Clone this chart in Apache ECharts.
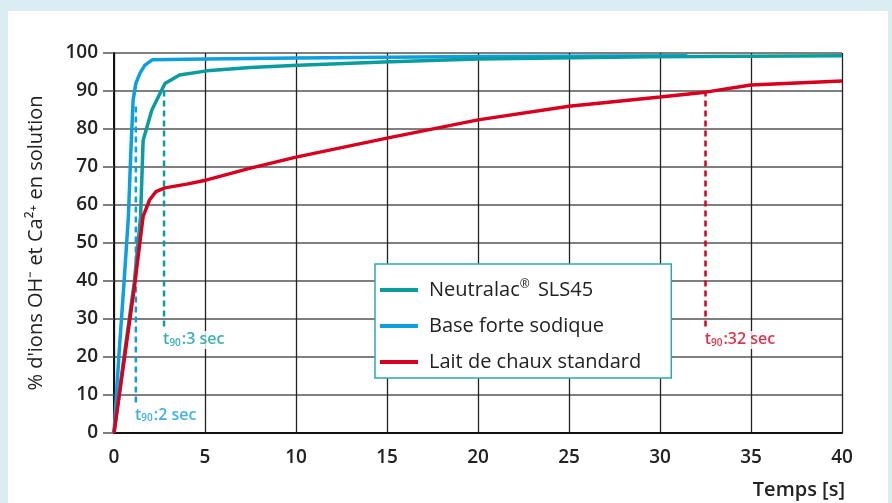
<!DOCTYPE html>
<html>
<head>
<meta charset="utf-8">
<script src="https://cdn.jsdelivr.net/npm/echarts@6/dist/echarts.min.js"></script>
<style>
html,body{margin:0;padding:0;background:#daedf2;}
#panel{position:absolute;left:8px;top:11px;width:880px;height:500px;background:#fff;}
#chart{position:absolute;left:0;top:0;width:892px;height:503px;}
</style>
</head>
<body>
<div id="panel"></div>
<div id="chart"></div>
<script>
// ---- data ----
const seriesNames = ['Neutralac® SLS45', 'Base forte sodique', 'Lait de chaux standard'];
const neutralac = [[0,0],[0.6,21.8],[1.11,39.5],[1.46,56.8],[1.6,77],[2.08,85],[2.8,92],[3.6,94.2],[5.1,95.3],[7.5,96.2],[9.8,96.7],[14.8,97.6],[20,98.4],[29.5,99],[40,99.3]];
const baseForte = [[0,0],[0.29,21.8],[0.55,39.5],[0.79,56.8],[0.93,74.5],[1.05,87.6],[1.2,92],[1.43,94.7],[1.7,96.8],[2.1,98.2],[5,98.4],[10,98.7],[20,99.1],[31.5,99.3]];
const laitChaux = [[0,0],[1.15,39.5],[1.6,57],[1.95,61.3],[2.3,63.5],[2.8,64.5],[4,65.5],[5.1,66.6],[7.5,69.7],[10,72.6],[15,77.6],[20,82.4],[25,86],[30,88.4],[32.5,89.7],[35,91.6],[40,92.6]];
// t90 markers: x position, dash bottom, dash top
const t90Blue = [[1.2,8],[1.2,87]];
const t90Teal = [[2.75,28],[2.75,91]];
const t90Red = [[32.5,28],[32.5,89.7]];
const t90Labels = [['2 sec',1.1,4.7],['3 sec',2.64,24.5],['32 sec',32.4,24.5]];
const xTicks = [0,5,10,15,20,25,30,35,40];
const yTicks = [0,10,20,30,40,50,60,70,80,90,100];

const cTeal = '#0a9c9e', cBlue = '#0d9fe0', cRed = '#d7001f';
const FONT = '"Open Sans"';

const chart = echarts.init(document.getElementById('chart'), null, {renderer:'canvas'});

function dashSeries(data, color){
  return {type:'line', data:data, symbol:'none', silent:true, z:3,
    lineStyle:{color:color, width:2.5, type:[6,4]}, tooltip:{show:false}};
}
function labelSeries(item, color){
  return {type:'scatter', symbolSize:0, silent:true, z:6,
    data:[[item[1], item[2]]],
    label:{show:true, position:'right', distance:0,
      formatter:'{t|t}{s|90}{t|:' + item[0] + '}',
      backgroundColor:'#fff', padding:[1,1,1,1],
      rich:{
        t:{fontFamily:FONT, fontSize:16, fontWeight:600, color:color},
        s:{fontFamily:FONT, fontSize:10, fontWeight:600, color:color, verticalAlign:'bottom', padding:[5,1,0,0]}
      }}};
}

const option = {
  animation:false,
  backgroundColor:'transparent',
  grid:{left:114, right:50, top:53, bottom:70, containLabel:false},
  xAxis:{type:'value', min:0, max:40, interval:5,
    axisLine:{show:true, onZero:false, lineStyle:{color:'#111', width:2}},
    axisTick:{show:false},
    splitLine:{show:true, lineStyle:{color:'#222', width:1.3}},
    axisLabel:{margin:15, fontFamily:FONT, fontSize:19, fontWeight:600, color:'#222',
      formatter:function(v){return xTicks.indexOf(v)>=0 ? String(v) : '';}}
  },
  yAxis:{type:'value', min:0, max:100, interval:10,
    name:"% d'ions OH⁻ et Ca²⁺ en solution", nameLocation:'middle', nameGap:68,
    nameTextStyle:{fontFamily:FONT, fontSize:20, color:'#222'},
    axisLine:{show:true, lineStyle:{color:'#111', width:2}},
    axisTick:{show:true, length:11, lineStyle:{color:'#555', width:1.5}},
    splitLine:{show:true, lineStyle:{color:'#555', width:1.5}},
    axisLabel:{margin:16, fontFamily:FONT, fontSize:19, fontWeight:600, color:'#222',
      formatter:function(v){return yTicks.indexOf(v)>=0 ? String(v) : '';}}
  },
  legend:{
    orient:'vertical', left:375, top:264,
    data:seriesNames,
    icon:'rect', itemWidth:38, itemHeight:4, itemGap:14,
    padding:[15,30,5,5],
    backgroundColor:'#fff', borderColor:'#2aa8b2', borderWidth:1.5, borderRadius:0,
    textStyle:{fontFamily:FONT, fontSize:20, color:'#222', lineHeight:22, padding:[0,0,0,6],
      rich:{a:{fontFamily:FONT, fontSize:20, color:'#222'},
            sup:{fontFamily:FONT, fontSize:12, color:'#222', verticalAlign:'top', padding:[0,3,7,0]}}},
    formatter:function(n){
      if(n.indexOf('®')>=0){const p=n.split('®'); return '{a|'+p[0]+'}{sup|®}{a|'+p[1]+'}';}
      return '{a|'+n+'}';
    },
    z:10
  },
  graphic:[{type:'text', right:47, top:480, z:10,
    style:{text:'Temps [s]', font:'600 20px '+FONT, fill:'#222'}}],
  series:[
    {name:seriesNames[0], type:'line', data:neutralac, symbol:'none', z:5,
      lineStyle:{color:cTeal, width:3.5}, itemStyle:{color:cTeal}},
    {name:seriesNames[1], type:'line', data:baseForte, symbol:'none', z:4,
      lineStyle:{color:cBlue, width:3.5}, itemStyle:{color:cBlue}},
    {name:seriesNames[2], type:'line', data:laitChaux, symbol:'none', z:5,
      lineStyle:{color:cRed, width:3.5}, itemStyle:{color:cRed}},
    dashSeries(t90Blue, cBlue),
    dashSeries(t90Teal, cTeal),
    dashSeries(t90Red, cRed),
    labelSeries(t90Labels[0], cBlue),
    labelSeries(t90Labels[1], cTeal),
    labelSeries(t90Labels[2], cRed)
  ]
};
chart.setOption(option);
</script>
</body>
</html>
